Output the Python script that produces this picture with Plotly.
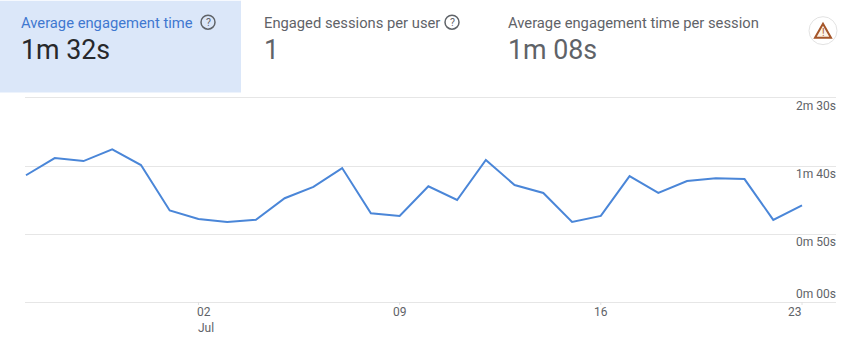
import plotly.graph_objects as go
import pandas as pd

W, H = 857, 361
L, R, T, B = 25, 836, 93.5, 306
PX_PER_SEC = 204.5 / 150

start_date = "2023-06-26"
engagement_seconds = [93.2, 105.8, 103.6, 112.2, 100.7, 67.3, 61.1, 58.9, 60.4, 76.3,
                      84.6, 98.5, 65.3, 63.3, 85.1, 75.0, 104.4, 86.0, 80.2, 58.9,
                      63.3, 92.6, 80.2, 89.0, 91.0, 90.4, 60.4, 71.1]
y_ticks = [0, 50, 100, 150]
y_labels = ["0m 00s", "0m 50s", "1m 40s", "2m 30s"]
x_ticks = ["2023-07-02", "2023-07-09", "2023-07-16", "2023-07-23"]
x_labels = ["02", "09", "16", "23"]
x_label_shift = [6, 0, 0, -7]
month_label = "Jul"
month_tick = "2023-07-02"
cards = [
    ("Average engagement time", "1m 32s", 22, "#3f78d0", "#27282b"),
    ("Engaged sessions per user", "1", 265, "#5f6368", "#5f6368"),
    ("Average engagement time per session", "1m 08s", 509, "#5f6368", "#5f6368"),
]
help_icon_x = [208, 452]

dates = pd.date_range(start_date, periods=len(engagement_seconds), freq="D")
day_px = (802 - 26) / 27
x_lo = dates[0] - pd.Timedelta(days=(26 - L) / day_px)
x_hi = dates[-1] + pd.Timedelta(days=(R - 802) / day_px)
y_lo = -(B - 302) / PX_PER_SEC
y_hi = 150 + (97.5 - T) / PX_PER_SEC


def px(x):
    return (x - L) / (R - L)


def py(y):
    return (B - y) / (B - T)


fig = go.Figure(go.Scatter(x=dates, y=engagement_seconds, mode="lines",
                           line=dict(color="#4a86d8", width=2), hoverinfo="skip"))

shapes = [dict(type="rect", xref="paper", yref="paper", x0=px(0), x1=px(241), y0=py(0), y1=py(92),
               fillcolor="#dbe7f9", line_width=0, layer="below")]
annots = []


def text(x, y, s, size, color, xanchor="left", family="Roboto"):
    annots.append(dict(xref="paper", yref="paper", x=px(x), y=py(y), text=s, showarrow=False,
                       xanchor=xanchor, yanchor="middle", align="left",
                       font=dict(family=family, size=size, color=color), borderpad=0, borderwidth=0))


for title, value, x, c1, c2 in cards:
    text(x - 1, 22, title, 14.75, c1)
    text(x - 1, 49, value, 26.8, c2)

for ix in help_icon_x:
    shapes.append(dict(type="circle", xref="paper", yref="paper", x0=px(ix - 7), x1=px(ix + 7),
                       y0=py(14.5), y1=py(28.5), line=dict(color="#5f6368", width=1.5)))
    text(ix, 21.5, "?", 10.5, "#5f6368", xanchor="center")

# warning badge
shapes.append(dict(type="circle", xref="paper", yref="paper", x0=px(809), x1=px(837), y0=py(16), y1=py(44),
                   line=dict(color="#e3e3e3", width=1), fillcolor="#ffffff"))
shapes.append(dict(type="path", xref="paper", yref="paper",
                   path=f"M {px(823)} {py(23)} L {px(815)} {py(37)} L {px(831)} {py(37)} Z",
                   line=dict(color="#a5562a", width=2), fillcolor="#fdf3e7"))
text(823, 32, "!", 10, "#a5562a", xanchor="center")

for v, s in zip(y_ticks, y_labels):
    annots.append(dict(xref="paper", yref="y", x=1, y=v, text=s, showarrow=False, xanchor="right",
                       yanchor="middle", yshift=8 if v == 0 else -8, xshift=2,
                       font=dict(family="Roboto", size=12, color="#5f6368")))

for d, s, shift in zip(x_ticks, x_labels, x_label_shift):
    annots.append(dict(xref="x", yref="y", x=d, y=0, text=s, showarrow=False, xanchor="center",
                       yanchor="middle", yshift=-10, xshift=shift,
                       font=dict(family="Roboto", size=12, color="#5f6368")))
annots.append(dict(xref="x", yref="y", x=month_tick, y=0, text=month_label, showarrow=False, xanchor="center",
                   yanchor="middle", yshift=-26, xshift=8,
                   font=dict(family="Roboto", size=12, color="#5f6368")))

fig.update_layout(
    width=W, height=H, paper_bgcolor="white", plot_bgcolor="white", showlegend=False,
    margin=dict(l=L, r=W - R, t=T, b=H - B, pad=0, autoexpand=False),
    shapes=shapes, annotations=annots,
    xaxis=dict(type="date", range=[x_lo, x_hi], showgrid=False, zeroline=False, showline=False,
               tickvals=x_ticks, ticktext=["" for _ in x_ticks], ticks="", showticklabels=False),
    yaxis=dict(range=[y_lo, y_hi], tickvals=y_ticks, ticktext=["" for _ in y_ticks], showgrid=True,
               gridcolor="#e6e6e6", gridwidth=1, zeroline=False, showline=False, ticks=""),
)
for d in x_ticks:
    fig.add_shape(type="line", xref="x", yref="y", x0=d, x1=d, y0=0, y1=-4,
                  line=dict(color="#e0e0e0", width=1, dash="dot"))
fig.write_html("out.html", config=dict(displayModeBar=False),
               post_script="document.body.style.margin='0';document.documentElement.style.margin='0';")
